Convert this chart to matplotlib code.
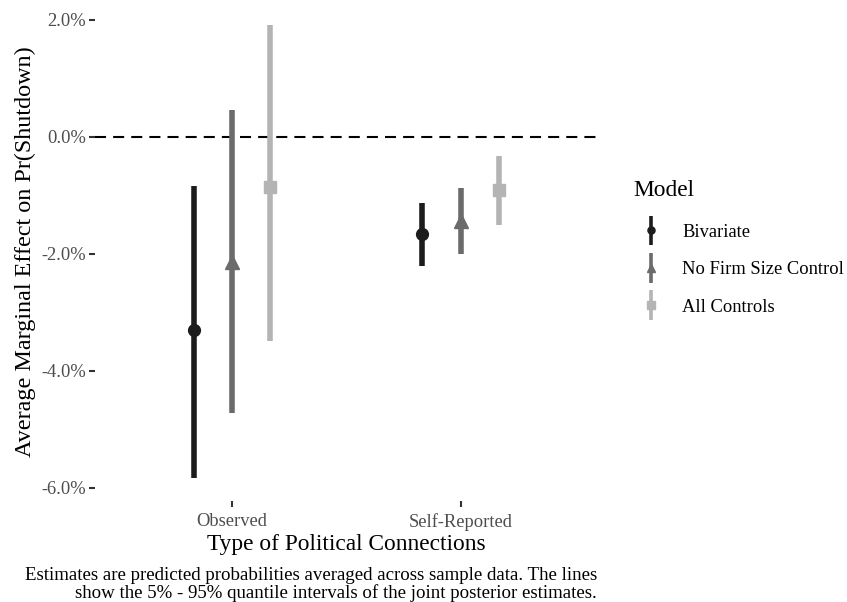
import numpy as np
import matplotlib
matplotlib.use("Agg")
import matplotlib.pyplot as plt
from matplotlib.ticker import FuncFormatter
from matplotlib.container import ErrorbarContainer
from matplotlib.legend_handler import HandlerErrorbar
from matplotlib.collections import LineCollection

plt.rcParams['font.family'] = ['Liberation Serif', 'DejaVu Serif']

# marginal effects (%), 5% - 95% posterior intervals
connections = ["Observed", "Self-Reported"]
models = ["Bivariate", "No Firm Size Control", "All Controls"]
estimate = [[-3.30, -1.66],
            [-2.14, -1.43],
            [-0.85, -0.91]]
lower = [[-5.83, -2.21],
         [-4.72, -2.00],
         [-3.49, -1.50]]
upper = [[-0.84, -1.13],
         [0.46, -0.87],
         [1.91, -0.32]]

colors = ["#1c1c1c", "#6b6b6b", "#b4b4b4"]
markers = ["o", "^", "s"]
msizes = [8.5, 10.5, 8.5]
dodge = 0.5

fig = plt.figure(figsize=(8.47, 6.02), dpi=100)
ax = fig.add_axes([0.1117, 0.168, 0.594, 0.828])

xpos = np.arange(1, len(connections) + 1)
for i, m in enumerate(models):
    off = (i - 1) * dodge / 3
    est = np.array(estimate[i])
    err = [est - np.array(lower[i]), np.array(upper[i]) - est]
    ax.errorbar(xpos + off, est, yerr=err, fmt=markers[i], color=colors[i],
                ms=msizes[i], elinewidth=4, capsize=0, label=m)

ax.axhline(0, color="black", lw=1.5, ls=(0, (5.3, 3.4)), zorder=0)

ax.set_xlim(0.4, 2.6)
ax.set_ylim(-6.22, 2.30)
ax.set_xticks(xpos)
ax.set_xticklabels(connections)
ax.set_yticks([2, 0, -2, -4, -6])
ax.yaxis.set_major_formatter(FuncFormatter(lambda v, p: "%.1f%%" % v))
ax.tick_params(axis="both", labelsize=13.3, color="#333333", length=4, width=1.5,
               labelcolor="#4d4d4d")
ax.tick_params(axis="y", pad=2)
ax.tick_params(axis="x", pad=5)
for s in ax.spines.values():
    s.set_visible(False)

ax.set_xlabel("Type of Political Connections", fontsize=16.8, labelpad=2)
ax.set_ylabel("Average Marginal Effect on Pr(Shutdown)", fontsize=17.4, labelpad=4)

fig.text(633 / 847, 1 - 190 / 602, "Model", ha="left", va="center", fontsize=16.8)
leg = ax.legend(loc="upper left", bbox_to_anchor=(0.7576, 0.628),
                bbox_transform=fig.transFigure, frameon=False, fontsize=13.3,
                handlelength=1.0, handletextpad=1.18, labelspacing=1.1,
                borderpad=0, borderaxespad=0, markerscale=0.6,
                handler_map={ErrorbarContainer: HandlerErrorbar(yerr_size=0.8)})
# thinner bars in the legend keys
for lc in leg.findobj(LineCollection):
    lc.set_linewidth(2.6)

fig.text(0.705, 0.058,
         "Estimates are predicted probabilities averaged across sample data. The lines\n"
         "show the 5% - 95% quantile intervals of the joint posterior estimates.",
         ha="right", va="top", fontsize=13.6, linespacing=1.02)

fig.savefig("out.png", dpi=100)
